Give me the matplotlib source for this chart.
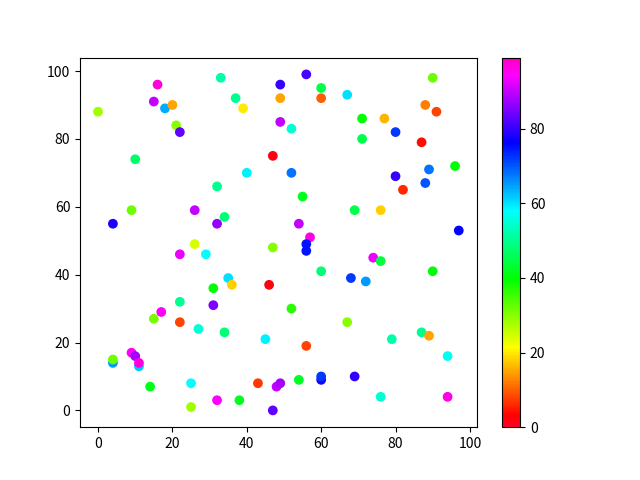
import matplotlib
matplotlib.use("Agg")
import matplotlib.pyplot as plt

plt.rcParams['font.family'] = ['Noto Sans CJK SC', 'DejaVu Sans']

# scatter points (x, y, colour value)
x = [0, 16, 15, 18, 20, 21, 22, 33, 37, 39,
     49, 56, 49, 60, 60, 67, 49, 52, 10, 47,
     71, 77, 71, 80, 90, 88, 91, 87, 32, 40,
     52, 55, 82, 80, 89, 88, 96, 4, 9, 26,
     32, 34, 54, 69, 76, 97, 57, 56, 56, 22,
     26, 29, 47, 35, 36, 46, 60, 68, 72, 74,
     76, 31, 31, 15, 17, 22, 22, 27, 34, 52,
     67, 56, 87, 89, 79, 94, 4, 4, 9, 10,
     11, 11, 14, 25, 45, 43, 48, 49, 54, 60,
     60, 69, 25, 32, 38, 47, 76, 94, 90]
y = [88, 96, 91, 89, 90, 84, 82, 98, 92, 89,
     96, 99, 92, 95, 92, 93, 85, 83, 74, 75,
     86, 86, 80, 82, 98, 90, 88, 79, 66, 70,
     70, 63, 65, 69, 71, 67, 72, 55, 59, 59,
     55, 57, 55, 59, 59, 53, 51, 49, 47, 46,
     49, 46, 48, 39, 37, 37, 41, 39, 38, 45,
     44, 36, 31, 27, 29, 32, 26, 24, 23, 30,
     26, 19, 23, 22, 21, 16, 14, 15, 17, 16,
     13, 14, 7, 8, 21, 8, 7, 8, 9, 9,
     10, 10, 1, 3, 3, 0, 4, 4, 41]
c = [28, 97, 90, 64, 15, 30, 83, 52, 50, 20,
     80, 81, 15, 45, 10, 60, 90, 55, 47, 2,
     40, 16, 45, 72, 32, 12, 8, 4, 50, 59,
     68, 42, 6, 80, 68, 70, 40, 78, 32, 90,
     87, 48, 90, 45, 18, 76, 96, 75, 75, 93,
     24, 58, 30, 60, 18, 2, 48, 72, 65, 93,
     44, 40, 85, 31, 95, 50, 8, 55, 48, 37,
     30, 8, 50, 15, 52, 57, 65, 32, 95, 88,
     62, 97, 41, 58, 59, 7, 90, 88, 42, 78,
     72, 80, 28, 94, 42, 83, 55, 96, 40]

fig, ax = plt.subplots(figsize=(6.4, 4.8), dpi=100)
sc = ax.scatter(x, y, c=c, cmap="gist_rainbow", vmin=0, vmax=99)
fig.colorbar(sc, ax=ax)

fig.savefig("out.png", dpi=100)
